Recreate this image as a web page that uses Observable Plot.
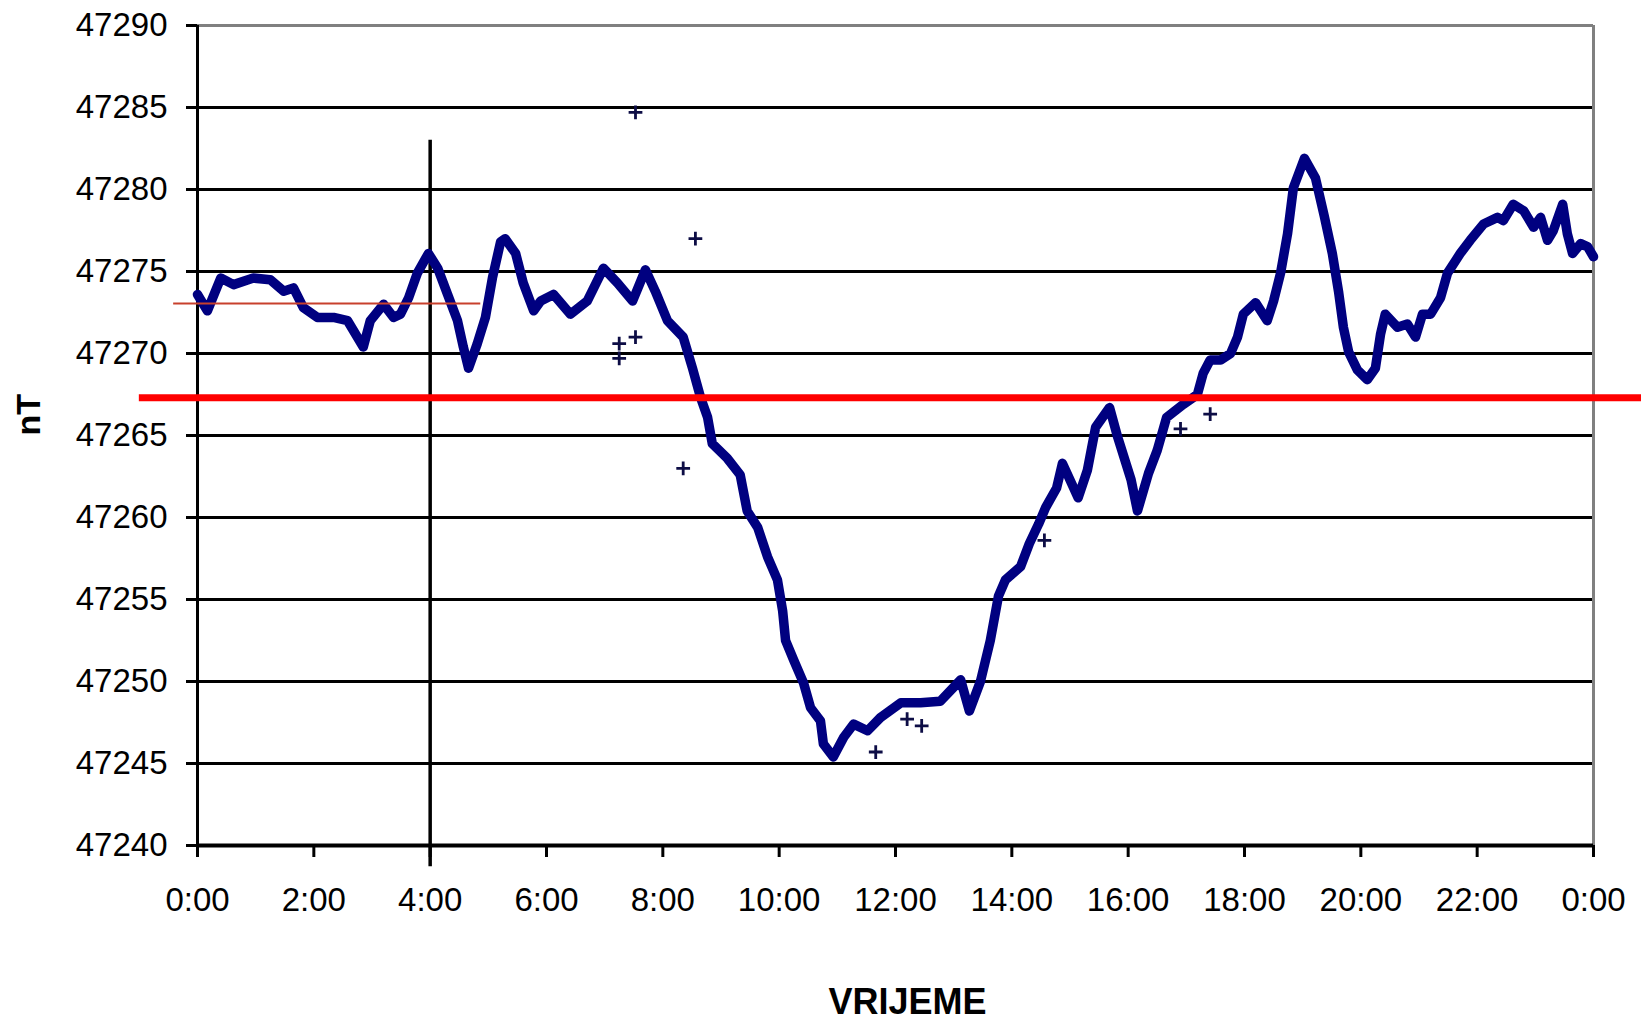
<!DOCTYPE html>
<html><head><meta charset="utf-8">
<script src="https://cdn.jsdelivr.net/npm/d3@7"></script>
<script src="https://cdn.jsdelivr.net/npm/@observablehq/plot@0.6"></script>
<style>html,body{margin:0;padding:0;background:#fff;} #chart svg{display:block;}</style>
</head><body><div id="chart"></div>
<script>
// Time of day (hours) and field intensity (nT)
const hours = [0.00,0.17,0.40,0.62,0.96,1.25,1.48,1.65,1.82,2.06,2.34,2.58,2.85,2.97,3.20,3.37,3.49,3.63,3.78,3.97,4.13,4.30,4.47,4.57,4.66,4.81,4.95,5.07,5.21,5.29,5.47,5.60,5.78,5.90,6.12,6.41,6.70,6.98,7.22,7.48,7.70,7.87,8.08,8.35,8.51,8.65,8.77,8.85,9.11,9.33,9.45,9.63,9.80,9.97,10.06,10.11,10.25,10.42,10.54,10.71,10.76,10.93,11.11,11.28,11.52,11.74,12.09,12.43,12.77,13.12,13.27,13.46,13.63,13.77,13.89,14.15,14.30,14.46,14.58,14.77,14.87,15.14,15.30,15.44,15.68,15.82,16.05,16.16,16.35,16.50,16.66,16.95,17.19,17.29,17.41,17.59,17.76,17.88,17.98,18.19,18.39,18.50,18.62,18.74,18.84,19.03,19.22,19.37,19.51,19.62,19.70,19.79,19.94,20.11,20.25,20.34,20.42,20.63,20.80,20.94,21.06,21.20,21.37,21.49,21.71,21.88,22.11,22.35,22.45,22.62,22.80,22.97,23.09,23.21,23.31,23.47,23.55,23.64,23.78,23.90,24.00];
const nT = [47273.6,47272.6,47274.6,47274.2,47274.6,47274.5,47273.8,47274.0,47272.8,47272.2,47272.2,47272.0,47270.4,47272.0,47273.0,47272.2,47272.4,47273.4,47274.9,47276.1,47275.2,47273.6,47272.0,47270.4,47269.1,47270.6,47272.2,47274.6,47276.8,47277.0,47276.1,47274.3,47272.6,47273.2,47273.6,47272.4,47273.2,47275.2,47274.3,47273.2,47275.1,47273.8,47272.0,47271.0,47269.1,47267.3,47266.1,47264.5,47263.6,47262.6,47260.4,47259.4,47257.6,47256.2,47254.3,47252.5,47251.3,47249.9,47248.4,47247.6,47246.2,47245.4,47246.6,47247.4,47247.0,47247.8,47248.7,47248.7,47248.8,47250.1,47248.2,47250.0,47252.5,47255.2,47256.2,47257.0,47258.4,47259.6,47260.6,47261.8,47263.3,47261.2,47262.9,47265.5,47266.7,47264.9,47262.3,47260.4,47262.7,47264.1,47266.1,47266.9,47267.5,47268.8,47269.6,47269.6,47270.0,47271.0,47272.4,47273.1,47272.0,47273.2,47274.9,47277.3,47280.1,47281.9,47280.7,47278.4,47276.1,47273.7,47271.6,47270.1,47269.0,47268.4,47269.1,47271.2,47272.4,47271.6,47271.8,47271.0,47272.4,47272.4,47273.4,47274.9,47276.1,47276.9,47277.9,47278.3,47278.1,47279.1,47278.7,47277.7,47278.3,47276.9,47277.5,47279.1,47277.3,47276.1,47276.7,47276.5,47275.9];

// Isolated readings
const outlierHours = [7.53,8.56,7.53,7.25,7.25,8.35,11.66,12.20,12.45,14.56,16.90,17.41];
const outlierNT = [47284.7,47277.0,47271.0,47270.6,47269.7,47263.0,47245.7,47247.7,47247.3,47258.6,47265.4,47266.3];

// Axes
const xTicks = [0,2,4,6,8,10,12,14,16,18,20,22,24];
const yTicks = [47240,47245,47250,47255,47260,47265,47270,47275,47280,47285,47290];
const xTitle = "VRIJEME";
const yTitle = "nT";

// Reference lines
const thickRedLevel = 47267.3, thickRedFrom = -1.0, thickRedTo = 24.9;
const thinRedLevel = 47273.05, thinRedFrom = -0.41, thinRedTo = 4.87;
const markerHour = 4, markerTop = 47283, markerBottom = 47238.7;

const series = hours.map((h, i) => ({h, v: nT[i]}));
const outliers = outlierHours.map((h, i) => ({h, v: outlierNT[i]}));

const chart = Plot.plot({
  width: 1641, height: 1020,
  marginLeft: 197, marginRight: 48, marginTop: 25, marginBottom: 175,
  style: {fontFamily: "'Liberation Sans', Arial, sans-serif", background: "#fff", color: "#000", overflow: "visible"},
  x: {domain: [0, 24], label: null},
  y: {domain: [47240, 47290], label: null},
  marks: [
    Plot.ruleY(yTicks.filter(t => t > 47240 && t < 47290), {stroke: "#000", strokeWidth: 3}),
    Plot.ruleY([47290], {stroke: "#808080", strokeWidth: 3}),
    Plot.ruleX([24], {stroke: "#808080", strokeWidth: 3}),
    Plot.ruleX([markerHour], {y1: markerTop, y2: markerBottom, stroke: "#000", strokeWidth: 3.5}),
    Plot.ruleX([0], {stroke: "#000", strokeWidth: 3}),
    Plot.ruleY([47240], {stroke: "#000", strokeWidth: 4}),
    Plot.axisY(yTicks, {tickSize: 11, tickPadding: 19, fontSize: 33, stroke: "#000", strokeWidth: 3, fill: "#000", tickFormat: d => String(d)}),
    Plot.axisX(xTicks, {tickSize: 12, tickPadding: 30, fontSize: 33, stroke: "#000", strokeWidth: 3, fill: "#000", tickFormat: h => `${h % 24}:00`}),
    Plot.line(series, {x: "h", y: "v", stroke: "#000080", strokeWidth: 9.5, strokeLinejoin: "round", strokeLinecap: "round"}),
    Plot.dot(outliers, {x: "h", y: "v", symbol: "plus", r: 4.5, stroke: "#0d0d45", strokeWidth: 2.8}),
    Plot.ruleY([thinRedLevel], {x1: thinRedFrom, x2: thinRedTo, stroke: "#c8402c", strokeWidth: 2}),
    Plot.ruleY([thickRedLevel], {x1: thickRedFrom, x2: thickRedTo, stroke: "#ff0000", strokeWidth: 7}),
    Plot.text([yTitle], {frameAnchor: "left", dx: -168, rotate: -90, fontSize: 34, fontWeight: "bold", fill: "#000"}),
    Plot.text([xTitle], {frameAnchor: "bottom", dx: 12, dy: 157, fontSize: 36, fontWeight: "bold", fill: "#000", lineAnchor: "middle"})
  ]
});
document.getElementById("chart").append(chart);
</script>
</body></html>
